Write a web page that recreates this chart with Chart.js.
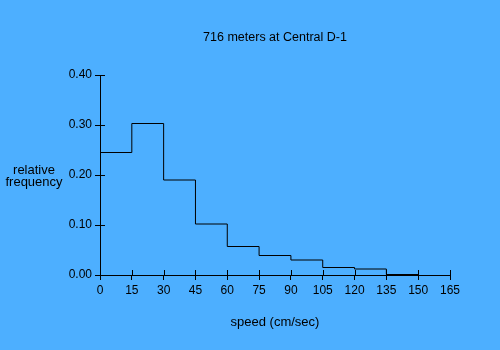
<!DOCTYPE html>
<html>
<head>
<meta charset="utf-8">
<script src="https://cdn.jsdelivr.net/npm/chart.js@4"></script>
<style>
  body { margin: 0; background: #4dafff; }
  canvas { display: block; }
</style>
</head>
<body>
<canvas id="speedChart" width="500" height="350"></canvas>
<script>
// speed classes (cm/sec), lower edge of each 15 cm/sec bin
const binStarts = [0, 15, 30, 45, 60, 75, 90, 105, 120, 135];
const binWidth = 15;
// relative frequency per bin
const relFreq = [0.245, 0.303, 0.19, 0.102, 0.057, 0.039, 0.03, 0.015, 0.012, 0.001];
const xTicks = [0, 15, 30, 45, 60, 75, 90, 105, 120, 135, 150, 165];
const yTicks = [0.0, 0.1, 0.2, 0.3, 0.4];

const FONT = 'Liberation Sans, Arial, sans-serif';

// step outline: each point starts a bin, last point closes the last bin
const points = binStarts.map((x, i) => ({ x: x, y: relFreq[i] }));
points.push({ x: binStarts[binStarts.length - 1] + binWidth, y: relFreq[relFreq.length - 1] });

// tick marks that cross the axis line (Chart.js only draws the outside half)
const crossTicks = {
  id: 'crossTicks',
  afterDraw(chart) {
    const ctx = chart.ctx;
    const xs = chart.scales.x, ys = chart.scales.y;
    const area = chart.chartArea;
    ctx.save();
    ctx.strokeStyle = '#000';
    ctx.lineWidth = 1;
    ctx.beginPath();
    xTicks.forEach(v => {
      const px = Math.round(xs.getPixelForValue(v)) + 0.5;
      ctx.moveTo(px, area.bottom);
      ctx.lineTo(px, area.bottom - 5);
    });
    yTicks.forEach(v => {
      const py = Math.round(ys.getPixelForValue(v)) + 0.5;
      ctx.moveTo(area.left, py);
      ctx.lineTo(area.left + 5, py);
    });
    ctx.stroke();

    // horizontal y axis caption
    ctx.fillStyle = '#000';
    ctx.font = '13px ' + FONT;
    ctx.textAlign = 'center';
    ctx.textBaseline = 'alphabetic';
    ctx.fillText('relative', 34, 174);
    ctx.fillText('frequency', 34, 186);
    ctx.restore();
  }
};

new Chart(document.getElementById('speedChart'), {
  type: 'line',
  data: {
    datasets: [{
      data: points,
      stepped: 'before',
      borderColor: '#000',
      borderWidth: 1,
      pointRadius: 0,
      fill: false
    }]
  },
  options: {
    responsive: false,
    animation: false,
    layout: { padding: { left: 0, right: 50, top: 0, bottom: 0 } },
    plugins: {
      legend: { display: false },
      tooltip: { enabled: false },
      title: {
        display: true,
        text: '716 meters at Central D-1',
        color: '#000',
        fullSize: false,
        font: { family: FONT, size: 12.5, weight: 'normal', lineHeight: 1.2 },
        padding: { top: 30, bottom: 30 }
      }
    },
    scales: {
      x: {
        type: 'linear',
        min: 0,
        max: 165,
        afterFit(scale) { scale.height = 75; },
        afterBuildTicks(scale) { scale.ticks = xTicks.map(v => ({ value: v })); },
        border: { color: '#000', width: 1 },
        grid: { drawOnChartArea: false, tickLength: 5, color: '#000' },
        ticks: { color: '#000', padding: 3, maxRotation: 0, autoSkip: false,
                 font: { family: FONT, size: 12 } },
        title: {
          display: true,
          text: 'speed (cm/sec)',
          color: '#000',
          font: { family: FONT, size: 13 },
          padding: { top: 0, bottom: 20 }
        }
      },
      y: {
        min: 0,
        max: 0.4,
        afterFit(scale) { scale.width = 100; },
        afterBuildTicks(scale) { scale.ticks = yTicks.map(v => ({ value: v })); },
        border: { color: '#000', width: 1 },
        grid: { drawOnChartArea: false, tickLength: 5, color: '#000' },
        ticks: {
          color: '#000',
          padding: 3,
          font: { family: FONT, size: 12 },
          callback: v => v.toFixed(2)
        }
      }
    }
  },
  plugins: [crossTicks]
});
</script>
</body>
</html>
